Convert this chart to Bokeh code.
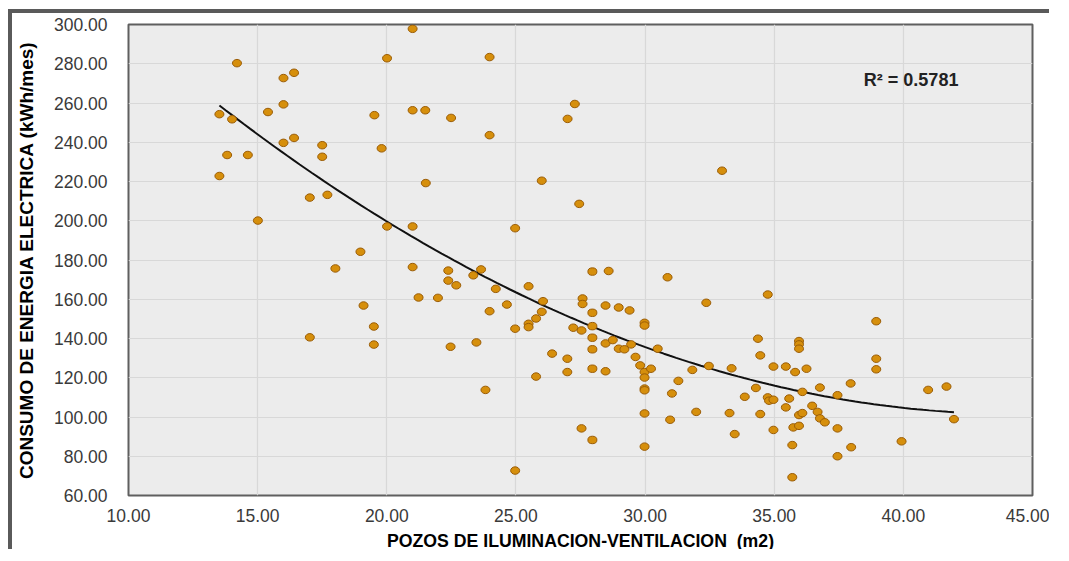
import numpy as np
from bokeh.plotting import figure
from bokeh.models import FixedTicker, PrintfTickFormatter, Range1d, Label
from bokeh.embed import file_html
from bokeh.resources import INLINE

# ---- data ----
pozos_m2 = [
    13.52, 13.52, 13.82, 14.01, 14.20, 14.62, 15.01, 15.40, 16.00, 16.00,
    16.00, 16.41, 16.41, 17.02, 17.02, 17.50, 17.50, 17.70, 18.01, 18.98,
    19.10, 19.50, 19.50, 19.52, 19.80, 20.01, 20.01, 21.00, 21.00, 21.00,
    21.00, 21.23, 21.49, 21.51, 21.98, 22.38, 22.38, 22.49, 22.47, 22.69,
    23.35, 23.47, 23.65, 23.82, 23.98, 23.98, 23.98, 24.22, 24.65, 24.97,
    24.97, 24.97, 25.49, 25.49, 25.49, 25.78, 25.78, 26.00, 26.05, 26.00,
    26.40, 26.99, 26.99, 27.00, 27.28, 27.22, 27.45, 27.54, 27.54, 27.58,
    27.58, 27.96, 27.96, 27.96, 27.96, 27.96, 27.96, 27.96, 28.59, 28.47,
    28.47, 28.47, 28.75, 28.98, 28.98, 29.20, 29.40, 29.46, 29.63, 29.81,
    29.98, 29.98, 29.98, 29.98, 29.98, 29.98, 29.98, 29.98, 30.23, 30.49,
    30.87, 30.97, 31.04, 31.29, 31.83, 31.98, 32.37, 32.47, 32.98, 33.27,
    33.35, 33.47, 33.86, 34.29, 34.37, 34.46, 34.46, 34.75, 34.75, 34.80,
    34.97, 34.97, 34.97, 35.45, 35.45, 35.58, 35.81, 35.74, 35.70, 35.70,
    35.96, 35.96, 35.96, 35.96, 35.96, 36.09, 36.09, 36.25, 36.47, 36.68,
    36.77, 36.77, 36.96, 37.45, 37.45, 37.45, 37.96, 37.98, 38.95, 38.95,
    38.95, 39.93, 40.96, 41.67, 41.96,
]
consumo_kwh = [
    254.3, 222.8, 233.5, 251.7, 280.3, 233.5, 200.1, 255.4, 272.7, 259.3,
    239.7, 275.4, 242.2, 211.8, 140.6, 238.5, 232.6, 213.2, 175.7, 184.2,
    156.8, 146.1, 136.9, 253.8, 236.9, 282.8, 197.1, 297.8, 256.3, 197.1,
    176.4, 160.9, 256.3, 219.2, 160.7, 174.6, 169.5, 252.4, 135.8, 167.1,
    172.2, 138.0, 175.2, 113.8, 283.4, 243.6, 153.9, 165.3, 157.3, 196.2,
    145.0, 72.7, 166.6, 147.5, 145.8, 150.2, 120.6, 220.4, 159.0, 153.6,
    132.3, 129.7, 122.9, 251.9, 259.5, 145.5, 208.6, 144.1, 94.2, 160.4,
    157.6, 174.1, 153.1, 146.3, 140.4, 134.5, 124.6, 88.3, 174.4, 156.8,
    137.5, 123.3, 139.2, 155.8, 134.8, 134.5, 154.3, 137.0, 130.6, 126.3,
    148.0, 146.6, 122.9, 120.1, 114.5, 113.6, 101.8, 84.9, 124.6, 134.8,
    171.2, 98.6, 112.0, 118.4, 124.0, 102.6, 158.2, 126.0, 225.5, 102.0,
    124.8, 91.3, 110.3, 114.8, 139.9, 131.4, 101.5, 162.4, 110.0, 108.3,
    108.8, 125.7, 93.4, 125.7, 104.9, 109.4, 122.9, 94.7, 85.7, 69.3,
    138.7, 137.0, 134.8, 101.0, 95.5, 112.8, 102.0, 124.6, 105.7, 102.6,
    115.0, 99.3, 97.3, 111.1, 94.2, 80.0, 117.1, 84.6, 148.8, 129.7,
    124.3, 87.6, 113.8, 115.5, 98.9,
]

# points read on the polynomial (order 2) trend line
trend_x_pts = [13.5, 20.0, 27.5, 35.0, 42.0]
trend_y_pts = [259.0, 199.5, 148.8, 115.8, 102.5]
r2_text = "R\u00b2 = 0.5781"

x_ticks = [10, 15, 20, 25, 30, 35, 40, 45]
y_ticks = [60, 80, 100, 120, 140, 160, 180, 200, 220, 240, 260, 280, 300]

x_title = "POZOS DE ILUMINACION-VENTILACION\u00a0\u00a0(m2)"
y_title = "CONSUMO DE ENERGIA ELECTRICA (kWh/mes)"

FONT = "Liberation Sans"

p = figure(
    width=1041, height=540,
    x_range=Range1d(10, 45), y_range=Range1d(60, 300),
    output_backend="svg", toolbar_location=None, tools="",
    min_border_left=114, min_border_right=21,
    min_border_top=11, min_border_bottom=56,
)
# outer chart-area frame (top and left edges visible in the reference)
p.styles = {
    "margin-left": "8px", "margin-top": "9px",
    "border-top": "4px solid #5a5a5a", "border-left": "4px solid #5a5a5a",
}

p.background_fill_color = "#ececec"
p.border_fill_color = "white"
p.outline_line_color = "#5f5f5f"
p.outline_line_width = 2

p.xgrid.grid_line_color = "#d8d8d8"
p.ygrid.grid_line_color = "#d8d8d8"
p.xgrid.grid_line_width = 1.2
p.ygrid.grid_line_width = 1.2

p.xaxis.ticker = FixedTicker(ticks=x_ticks)
p.yaxis.ticker = FixedTicker(ticks=y_ticks)
p.xaxis.formatter = PrintfTickFormatter(format="%.2f")
p.yaxis.formatter = PrintfTickFormatter(format="%.2f")

for ax in (p.xaxis[0], p.yaxis[0]):
    ax.axis_line_color = None
    ax.major_tick_line_color = None
    ax.minor_tick_line_color = None
    ax.major_label_text_font = FONT
    ax.major_label_text_font_size = "17.5px"
    ax.major_label_text_color = "#3a3a3a"
    ax.axis_label_text_font = FONT
    ax.axis_label_text_font_style = "bold"
    ax.axis_label_text_color = "black"

p.xaxis.axis_label_text_font_size = "17.7px"
p.yaxis.axis_label_text_font_size = "19px"
p.xaxis.axis_label = x_title
p.yaxis.axis_label = y_title
p.xaxis.major_label_standoff = 7
p.yaxis.major_label_standoff = 15
p.xaxis.axis_label_standoff = 6
p.yaxis.axis_label_standoff = 14

# trend line (2nd order polynomial through the read trend points)
coef = np.polyfit(trend_x_pts, trend_y_pts, 2)
tx = np.linspace(min(pozos_m2), max(pozos_m2), 120)
ty = np.polyval(coef, tx)
p.line(tx, ty, line_color="#111111", line_width=2)

# points
p.ellipse(x=pozos_m2, y=consumo_kwh, width=9, height=7.5,
          width_units="screen", height_units="screen",
          fill_color="#d68f0c", line_color="#9a5c06", line_width=1)

p.add_layout(Label(x=38.47, y=271.5, text=r2_text, text_font=FONT,
                   text_font_style="bold", text_font_size="18px",
                   text_color="#222222", text_baseline="middle"))

open("out.html", "w").write(file_html(p, INLINE))
